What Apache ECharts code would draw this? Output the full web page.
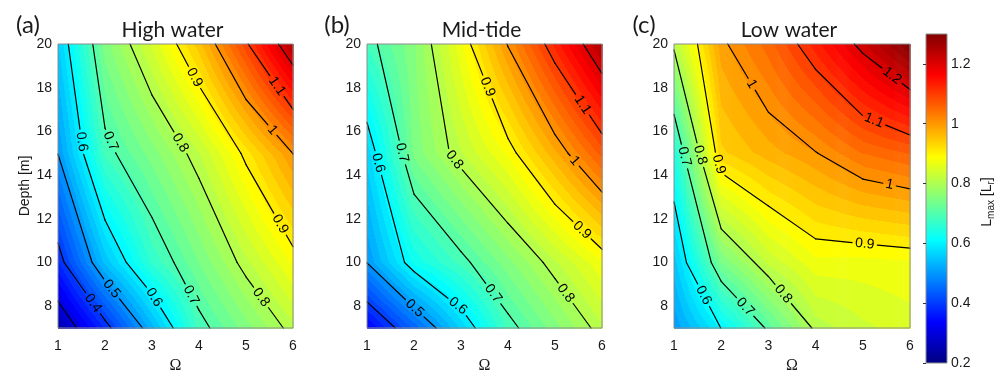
<!DOCTYPE html>
<html>
<head>
<meta charset="utf-8">
<script src="https://cdn.jsdelivr.net/npm/echarts@6/dist/echarts.min.js"></script>
<style>
  html, body { margin: 0; padding: 0; background: #fff; }
  #chart { width: 1003px; height: 379px; }
</style>
</head>
<body>
<div id="chart"></div>
<script>
// ---- grid of the model runs ----
const OMEGA = [1, 2, 3, 4, 5, 6];
const DEPTHS = [7, 10, 15, 20];
const X_TICKS = [1, 2, 3, 4, 5, 6];
const DEPTH_TICKS = [8, 10, 12, 14, 16, 18, 20];
const CBAR_TICKS = [0.2, 0.4, 0.6, 0.8, 1.0, 1.2];
const C_MIN = 0.2, C_MAX = 1.3;
const LEVELS = [0.3, 0.4, 0.5, 0.6, 0.7, 0.8, 0.9, 1.0, 1.1, 1.2];
const FILL_STEP = 0.02;   // filled-contour band width

// L_max, one row per depth in DEPTHS, columns follow OMEGA
const highWater = [
  [0.247, 0.380, 0.530, 0.685, 0.750, 0.813],
  [0.378, 0.546, 0.665, 0.740, 0.814, 0.883],
  [0.501, 0.685, 0.750, 0.818, 0.910, 1.001],
  [0.558, 0.750, 0.844, 0.951, 1.093, 1.248]
];
const midTide = [
  [0.333, 0.444, 0.563, 0.685, 0.751, 0.815],
  [0.501, 0.625, 0.687, 0.753, 0.816, 0.877],
  [0.567, 0.745, 0.818, 0.884, 0.974, 1.068],
  [0.684, 0.757, 0.874, 1.003, 1.127, 1.249]
];
const lowWater = [
  [0.505, 0.601, 0.708, 0.808, 0.835, 0.850],
  [0.550, 0.740, 0.825, 0.873, 0.871, 0.876],
  [0.640, 0.935, 0.970, 0.998, 1.040, 1.060],
  [0.809, 0.992, 1.050, 1.131, 1.215, 1.300]
];

// inline contour labels: [level, omega, depth]
const highWaterLabels = [
  [0.9, 3.92, 18.49], [1.1, 5.59, 17.97], [1.0, 5.59, 16.11],
  [0.6, 1.48, 15.52], [0.7, 2.08, 15.52], [0.8, 3.64, 15.52],
  [0.9, 5.77, 11.81], [0.4, 1.72, 8.10], [0.5, 2.08, 8.69],
  [0.6, 2.93, 8.25], [0.7, 3.74, 8.40], [0.8, 5.27, 8.32]
];
const midTideLabels = [
  [0.9, 3.57, 18.04], [1.1, 5.59, 17.23], [1.0, 5.41, 14.63],
  [0.7, 1.69, 15.00], [0.6, 1.23, 14.55], [0.8, 2.86, 14.70],
  [0.9, 5.59, 11.51], [0.5, 1.97, 7.80], [0.6, 2.86, 7.80],
  [0.7, 3.67, 8.55], [0.8, 5.20, 8.55]
];
const lowWaterLabels = [
  [1.0, 2.67, 18.19], [1.2, 5.57, 18.41], [1.1, 5.29, 16.78],
  [1.0, 5.57, 13.59], [0.7, 1.23, 14.85], [0.8, 1.58, 14.93],
  [0.9, 1.93, 14.48], [0.9, 5.04, 10.85], [0.6, 1.54, 8.40],
  [0.7, 2.50, 7.95], [0.8, 3.31, 8.55]
];

const PANELS = [
  { title: 'High water', tag: '(a)', grid: highWater, labels: highWaterLabels, left: 58, width: 235 },
  { title: 'Mid-tide',   tag: '(b)', grid: midTide,   labels: midTideLabels,   left: 367, width: 235 },
  { title: 'Low water',  tag: '(c)', grid: lowWater,  labels: lowWaterLabels,  left: 674, width: 236 }
];
const PLOT_TOP = 44, PLOT_H = 292;
const TEXT = '#1a1a1a';
const SANS = '"Liberation Sans", Arial, sans-serif';

// ---- jet colour map ----
function jet(v) {
  let x = (v - C_MIN) / (C_MAX - C_MIN);
  x = Math.max(0, Math.min(1, x));
  const c = t => Math.round(255 * Math.max(0, Math.min(1, t)));
  return 'rgb(' + c(Math.min(4 * x - 1.5, -4 * x + 4.5)) + ',' +
    c(Math.min(4 * x - 0.5, -4 * x + 3.5)) + ',' +
    c(Math.min(4 * x + 0.5, -4 * x + 2.5)) + ')';
}
const JET_BREAKS = [0, 1 / 8, 3 / 8, 5 / 8, 7 / 8, 1].map(k => C_MIN + (C_MAX - C_MIN) * k);

// smooth vertical gradient (colour bar)
function jetGradient(vTop, vBot) {
  const stops = [{ offset: 0, color: jet(vTop) }, { offset: 1, color: jet(vBot) }];
  const lo = Math.min(vTop, vBot), hi = Math.max(vTop, vBot);
  if (hi - lo > 1e-9) {
    JET_BREAKS.forEach(b => {
      if (b > lo && b < hi) stops.push({ offset: (b - vTop) / (vBot - vTop), color: jet(b) });
    });
  }
  stops.sort((p, q) => p.offset - q.offset);
  return { type: 'linear', x: 0, y: 0, x2: 0, y2: 1, colorStops: stops };
}

// stepped vertical gradient: one flat colour per FILL_STEP band
const bandColor = k => jet((k + 0.5) * FILL_STEP);
function bandGradient(vTop, vBot) {
  const kTop = Math.floor(vTop / FILL_STEP), kBot = Math.floor(vBot / FILL_STEP);
  const stops = [{ offset: 0, color: bandColor(kTop) }];
  if (kTop !== kBot) {
    const dir = kBot > kTop ? 1 : -1;
    for (let k = kTop; k !== kBot; k += dir) {
      const edge = (dir > 0 ? k + 1 : k) * FILL_STEP;
      const o = (edge - vTop) / (vBot - vTop);
      stops.push({ offset: o, color: bandColor(k) });
      stops.push({ offset: o, color: bandColor(k + dir) });
    }
  }
  stops.push({ offset: 1, color: bandColor(kBot) });
  return { type: 'linear', x: 0, y: 0, x2: 0, y2: 1, colorStops: stops };
}

// ---- marching squares on the OMEGA x DEPTHS grid ----
function contourSegments(grid, L) {
  const segs = [];
  const up = v => v >= L;
  const cross = (va, vb, pa, pb) => {
    const t = (L - va) / (vb - va);
    return [pa[0] + (pb[0] - pa[0]) * t, pa[1] + (pb[1] - pa[1]) * t];
  };
  for (let j = 0; j < DEPTHS.length - 1; j++) {
    for (let i = 0; i < OMEGA.length - 1; i++) {
      const A = [OMEGA[i], DEPTHS[j]], B = [OMEGA[i + 1], DEPTHS[j]];
      const C = [OMEGA[i + 1], DEPTHS[j + 1]], D = [OMEGA[i], DEPTHS[j + 1]];
      const a = grid[j][i], b = grid[j][i + 1], c = grid[j + 1][i + 1], d = grid[j + 1][i];
      const e = [
        up(a) !== up(b) ? cross(a, b, A, B) : null,
        up(b) !== up(c) ? cross(b, c, B, C) : null,
        up(c) !== up(d) ? cross(c, d, C, D) : null,
        up(d) !== up(a) ? cross(d, a, D, A) : null
      ];
      const pts = e.filter(Boolean);
      if (pts.length === 2) segs.push(pts);
      else if (pts.length === 4) {
        if (up((a + b + c + d) / 4) === up(a)) { segs.push([e[0], e[1]]); segs.push([e[2], e[3]]); }
        else { segs.push([e[3], e[0]]); segs.push([e[1], e[2]]); }
      }
    }
  }
  return segs;
}

const LABEL_FONT = 14;
const fmt = v => String(+v.toFixed(1));
const textWidth = s => s.split('').reduce((w, ch) => w + (ch === '.' ? 0.278 : 0.556), 0) * LABEL_FONT;

// cut the part of segment p-q that falls under any label
function clipSegment(p, q, labs) {
  const dx = q[0] - p[0], dy = q[1] - p[1];
  const A = dx * dx + dy * dy;
  if (A < 1e-9) return [];
  let parts = [[0, 1]];
  labs.forEach(lb => {
    const fx = p[0] - lb.x, fy = p[1] - lb.y;
    const B = 2 * (fx * dx + fy * dy);
    const Cc = fx * fx + fy * fy - lb.r * lb.r;
    const disc = B * B - 4 * A * Cc;
    if (disc <= 0) return;
    const s = Math.sqrt(disc);
    const t0 = (-B - s) / (2 * A), t1 = (-B + s) / (2 * A);
    const next = [];
    parts.forEach(([u, v]) => {
      if (t1 <= u || t0 >= v) { next.push([u, v]); return; }
      if (t0 > u) next.push([u, t0]);
      if (t1 < v) next.push([t1, v]);
    });
    parts = next;
  });
  return parts.map(([u, v]) => [[p[0] + dx * u, p[1] + dy * u], [p[0] + dx * v, p[1] + dy * v]]);
}

function fieldSeries(k, grid) {
  const cells = [];
  for (let j = 0; j < DEPTHS.length - 1; j++)
    for (let i = 0; i < OMEGA.length - 1; i++) cells.push([i, j]);
  return {
    type: 'custom', xAxisIndex: k, yAxisIndex: k, z: 1, silent: true,
    data: cells,
    renderItem(params, api) {
      const [i, j] = cells[params.dataIndex];
      const pA = api.coord([OMEGA[i], DEPTHS[j]]);
      const pB = api.coord([OMEGA[i + 1], DEPTHS[j + 1]]);
      const n = Math.max(1, Math.ceil(pB[0] - pA[0]));
      const w = (pB[0] - pA[0]) / n;
      const children = [];
      for (let s = 0; s < n; s++) {
        const t = (s + 0.5) / n;
        const vBot = grid[j][i] + (grid[j][i + 1] - grid[j][i]) * t;
        const vTop = grid[j + 1][i] + (grid[j + 1][i + 1] - grid[j + 1][i]) * t;
        children.push({
          type: 'rect',
          shape: { x: pA[0] + s * w, y: pB[1], width: w + 0.7, height: pA[1] - pB[1] + 0.7 },
          style: { fill: bandGradient(vTop, vBot) }
        });
      }
      return { type: 'group', children };
    }
  };
}

function contourSeries(k, grid, labels) {
  return {
    type: 'custom', xAxisIndex: k, yAxisIndex: k, z: 2, silent: true,
    data: LEVELS.map((l, idx) => [idx]),
    renderItem(params, api) {
      const L = LEVELS[params.dataIndex];
      const segs = contourSegments(grid, L).map(s => [api.coord(s[0]), api.coord(s[1])]);
      if (!segs.length) return { type: 'group', children: [] };
      const labs = [];
      labels.filter(l => Math.abs(l[0] - L) < 1e-6).forEach(l => {
        const h = api.coord([l[1], l[2]]);
        let best = null, bd = Infinity;
        segs.forEach(([p, q]) => {
          const dx = q[0] - p[0], dy = q[1] - p[1];
          const len2 = dx * dx + dy * dy;
          if (len2 < 1e-9) return;
          let t = ((h[0] - p[0]) * dx + (h[1] - p[1]) * dy) / len2;
          t = Math.max(0, Math.min(1, t));
          const x = p[0] + dx * t, y = p[1] + dy * t;
          const d = (x - h[0]) ** 2 + (y - h[1]) ** 2;
          if (d < bd) { bd = d; best = { x, y, dx, dy }; }
        });
        if (best) {
          let ang = Math.atan2(best.dy, best.dx);
          if (ang > Math.PI / 2) ang -= Math.PI;
          if (ang < -Math.PI / 2) ang += Math.PI;
          const text = fmt(L);
          labs.push({ x: best.x, y: best.y, ang, text, r: textWidth(text) / 2 + 3 });
        }
      });
      const children = [];
      segs.forEach(([p, q]) => {
        clipSegment(p, q, labs).forEach(([u, v]) => {
          children.push({
            type: 'line',
            shape: { x1: u[0], y1: u[1], x2: v[0], y2: v[1] },
            style: { stroke: '#000', lineWidth: 1.2, lineCap: 'round' }
          });
        });
      });
      labs.forEach(lb => {
        children.push({
          type: 'text', x: lb.x, y: lb.y, rotation: -lb.ang,
          style: {
            text: lb.text, x: 0, y: 0, fill: '#000',
            font: LABEL_FONT + 'px ' + SANS, align: 'center', verticalAlign: 'middle'
          }
        });
      });
      return { type: 'group', children };
    }
  };
}

function frameSeries(k) {
  return {
    type: 'custom', xAxisIndex: k, yAxisIndex: k, z: 3, silent: true,
    data: [[0]],
    renderItem(params, api) {
      const p0 = api.coord([OMEGA[0], DEPTHS[DEPTHS.length - 1]]);
      const p1 = api.coord([OMEGA[OMEGA.length - 1], DEPTHS[0]]);
      return {
        type: 'rect',
        shape: { x: p0[0], y: p0[1], width: p1[0] - p0[0], height: p1[1] - p0[1] },
        style: { fill: null, stroke: '#8c8c8c', lineWidth: 1 }
      };
    }
  };
}

// ---- option ----
const grids = [], xAxes = [], yAxes = [], series = [], graphics = [];
PANELS.forEach((p, k) => {
  grids.push({ left: p.left, top: PLOT_TOP, width: p.width, height: PLOT_H });
  xAxes.push({
    gridIndex: k, type: 'value', min: 1, max: 6, interval: 1,
    axisLine: { show: false }, axisTick: { show: false }, splitLine: { show: false },
    axisLabel: { color: TEXT, fontFamily: SANS, fontSize: 14, margin: 11 },
    name: 'Ω', nameLocation: 'middle', nameGap: 30,
    nameTextStyle: { color: TEXT, fontFamily: '"Liberation Serif", serif', fontSize: 16 }
  });
  yAxes.push({
    gridIndex: k, type: 'value', min: 7, max: 20,
    axisLine: { show: false }, axisTick: { show: false }, splitLine: { show: false },
    axisLabel: { customValues: DEPTH_TICKS, color: TEXT, fontFamily: SANS, fontSize: 14, margin: 6 },
    name: k === 0 ? 'Depth [m]' : '', nameLocation: 'middle', nameGap: 26,
    nameTextStyle: { color: TEXT, fontFamily: SANS, fontSize: 14 }
  });
  series.push(fieldSeries(k, p.grid), contourSeries(k, p.grid, p.labels), frameSeries(k));
  graphics.push({
    type: 'text', x: p.left + p.width / 2 - 3, y: 30,
    style: { text: p.title, font: '21px Lato, "Open Sans", sans-serif', fill: TEXT, align: 'center', verticalAlign: 'middle' }
  });
  graphics.push({
    type: 'text', x: p.left - 30, y: 25,
    style: { text: p.tag, font: '24px Lato, "Open Sans", sans-serif', fill: TEXT, align: 'center', verticalAlign: 'middle' }
  });
});

// colour bar
grids.push({ left: 926, top: 34, width: 21, height: 329 });
xAxes.push({ gridIndex: 3, type: 'value', min: 0, max: 1, show: false });
yAxes.push({
  gridIndex: 3, type: 'value', min: C_MIN, max: C_MAX, position: 'right', z: 5,
  axisLine: { show: false }, splitLine: { show: false },
  axisTick: { show: true, inside: true, length: 3, customValues: CBAR_TICKS, lineStyle: { color: '#333' } },
  axisLabel: { customValues: CBAR_TICKS, color: TEXT, fontFamily: SANS, fontSize: 14, margin: 4,
    formatter: v => fmt(v) }
});
series.push({
  type: 'custom', xAxisIndex: 3, yAxisIndex: 3, z: 1, silent: true,
  data: [[0]],
  renderItem(params, api) {
    const p0 = api.coord([0, C_MAX]);
    const p1 = api.coord([1, C_MIN]);
    return {
      type: 'rect',
      shape: { x: p0[0], y: p0[1], width: p1[0] - p0[0], height: p1[1] - p0[1] },
      style: { fill: jetGradient(C_MAX, C_MIN), stroke: '#8c8c8c', lineWidth: 1 }
    };
  }
});
graphics.push({
  type: 'text', x: 987, y: 202, rotation: Math.PI / 2,
  style: {
    text: '{a|L}{b|max}{a| [L}{b|r}{a|]}', align: 'center', verticalAlign: 'middle',
    rich: {
      a: { fontFamily: SANS, fontSize: 14, fill: TEXT, lineHeight: 18 },
      b: { fontFamily: SANS, fontSize: 10, fill: TEXT, verticalAlign: 'bottom', lineHeight: 18 }
    }
  }
});

const chart = echarts.init(document.getElementById('chart'), null, { renderer: 'canvas' });
chart.setOption({
  animation: false,
  backgroundColor: '#fff',
  grid: grids, xAxis: xAxes, yAxis: yAxes, series, graphic: graphics
});
</script>
</body>
</html>
